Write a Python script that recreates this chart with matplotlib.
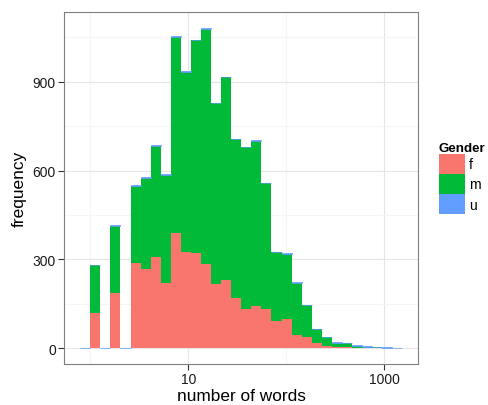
import matplotlib.pyplot as plt
import numpy as np
from matplotlib.patches import Patch

plt.rcParams["font.family"] = ["Liberation Sans", "DejaVu Sans"]

# histogram of log10(word count): 32 bins, first bin starts one width below 0
BIN_WIDTH = 0.1027
FIRST_EDGE = -BIN_WIDTH

# counts per bin, stacked f / m / u
count_f = [0, 118, 0, 186, 0, 287, 268, 308, 219, 390, 323, 320, 283, 217,
           231, 169, 132, 141, 133, 92, 98, 45, 36, 17, 6, 3, 2, 1, 1, 0, 0, 0]
count_m = [0, 161, 0, 228, 0, 262, 307, 376, 366, 662, 611, 721, 797, 611,
           684, 536, 547, 560, 424, 232, 221, 175, 108, 46, 31, 15, 14, 7, 4, 2, 1, 0]
count_u = [0, 2, 0, 2, 0, 2, 2, 2, 2, 2, 2, 2, 2, 2,
           2, 2, 2, 2, 2, 2, 2, 2, 2, 1, 1, 1, 1, 1, 1, 1, 1, 1]

GENDERS = ["f", "m", "u"]
COLORS = {"f": "#F8766D", "m": "#00BA38", "u": "#619CFF"}

x_ticks = [10, 1000]
y_ticks = [0, 300, 600, 900]


def bin_edges(n):
    logs = FIRST_EDGE + BIN_WIDTH * np.arange(n + 1)
    return 10 ** logs


fig = plt.figure(figsize=(4.88, 4.06), dpi=100)
ax = fig.add_axes([0.1314, 0.101, 0.7260, 0.867])

edges = bin_edges(len(count_f))
left = edges[:-1]
widths = np.diff(edges)

bottom = np.zeros(len(count_f))
for g, counts in zip(GENDERS, [count_f, count_m, count_u]):
    counts = np.array(counts, dtype=float)
    # the thin outline on "u" keeps empty bins visible as a baseline stroke
    ax.bar(left, counts, width=widths, bottom=bottom, align="edge",
           color=COLORS[g], edgecolor=COLORS[g],
           linewidth=0.5 if g == "u" else 0, zorder=3)
    bottom += counts

ax.set_xscale("log")
span = np.log10(edges[-1]) - np.log10(edges[0])
lo = np.log10(edges[0]) - 0.05 * span
hi = np.log10(edges[-1]) + 0.05 * span
ax.set_xlim(10 ** lo, 10 ** hi)
ax.set_ylim(-54, 1136)

ax.set_xticks(x_ticks)
ax.set_xticklabels([str(t) for t in x_ticks])
ax.set_xticks([1, 100], minor=True)
ax.set_xticklabels([], minor=True)
ax.set_yticks(y_ticks)
ax.set_yticks([150, 450, 750, 1050], minor=True)

ax.grid(which="major", color="#E5E5E5", linewidth=0.8, zorder=0)
ax.grid(which="minor", color="#F5F5F5", linewidth=0.8, zorder=0)
ax.set_axisbelow(True)

ax.tick_params(which="major", length=4, width=0.8, color="#333333",
               labelsize=10, labelcolor="#1a1a1a", pad=2)
ax.tick_params(which="minor", length=0)
for s in ax.spines.values():
    s.set_color("#7F7F7F")
    s.set_linewidth(0.8)

ax.set_xlabel("number of words", fontsize=12.4, color="#000000", labelpad=1)
ax.set_ylabel("frequency", fontsize=12.4, color="#000000", labelpad=4)

handles = [Patch(facecolor=COLORS[g], edgecolor="none", label=g) for g in GENDERS]
leg = fig.legend(handles=handles, title="Gender", loc="upper left",
                 bbox_to_anchor=(0.893, 0.655), frameon=False,
                 fontsize=10, title_fontsize=9.6, handlelength=1.9,
                 handleheight=1.85, labelspacing=0.0, handletextpad=0.3,
                 borderpad=0.2, borderaxespad=0)
leg.get_title().set_fontweight("bold")
leg._legend_box.align = "left"

fig.savefig("out.png", dpi=100)
